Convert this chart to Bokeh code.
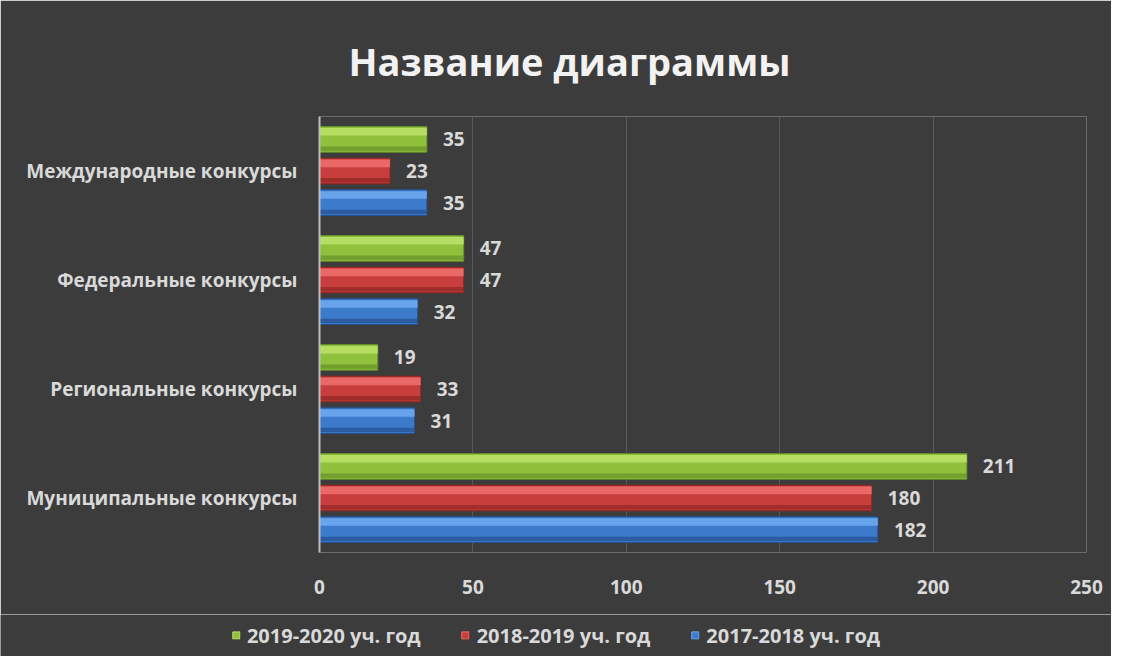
from bokeh.plotting import figure
from bokeh.layouts import column, row
from bokeh.models import FactorRange, Legend, LegendItem, ColumnDataSource, SingleIntervalTicker
from bokeh.transform import dodge
from bokeh.embed import file_html
from bokeh.resources import INLINE
from bokeh.core.properties import value

categories = ["Муниципальные конкурсы", "Региональные конкурсы", "Федеральные конкурсы", "Международные конкурсы"]
series_names = ["2019-2020 уч. год", "2018-2019 уч. год", "2017-2018 уч. год"]
v_2019_2020 = [211, 19, 47, 35]
v_2018_2019 = [180, 33, 47, 23]
v_2017_2018 = [182, 31, 32, 35]

FONT = "Open Sans"
TXT = "#d9d9d9"
BG = "#3c3c3c"

p = figure(frame_width=767, frame_height=436, y_range=FactorRange(factors=categories), x_range=(0, 250),
           output_backend="svg", toolbar_location=None,
           min_border_left=319, min_border_right=25, min_border_top=116, min_border_bottom=62)
p.background_fill_color = BG
p.border_fill_color = BG
p.outline_line_color = None

p.title.text = "Название диаграммы"
p.title.align = "left"
p.title.offset = 29
p.title.standoff = 59
p.title.text_color = "#f2f2f2"
p.title.text_font = FONT
p.title.text_font_style = "bold"
p.title.text_font_size = "38px"

p.xgrid.grid_line_color = "#585858"
p.ygrid.grid_line_color = None
p.xaxis.ticker = SingleIntervalTicker(interval=50)
p.xaxis.axis_line_color = None
p.xaxis.major_tick_line_color = None
p.xaxis.minor_tick_line_color = None
p.xaxis.major_label_text_color = TXT
p.xaxis.major_label_text_font = FONT
p.xaxis.major_label_text_font_style = "bold"
p.xaxis.major_label_text_font_size = "19px"
p.xaxis.major_label_standoff = 21

p.yaxis.axis_line_color = "#bdbdbd"
p.yaxis.axis_line_width = 2
p.yaxis.major_tick_line_color = None
p.yaxis.minor_tick_line_color = None
p.yaxis.major_label_text_color = TXT
p.yaxis.major_label_text_font = FONT
p.yaxis.major_label_text_font_style = "bold"
p.yaxis.major_label_text_font_size = "19px"
p.yaxis.major_label_standoff = 16

series = [
    (v_2019_2020, 0.29, "#8fc13d", "#bce36a", "#648f25"),
    (v_2018_2019, 0.0, "#c83e3c", "#f0706d", "#8e2523"),
    (v_2017_2018, -0.29, "#3c7acb", "#70acf2", "#24508f"),
]
for (vals, off, main, hi, dark), name in zip(series, series_names):
    src = ColumnDataSource(dict(cat=categories, val=vals, lab=[str(v) for v in vals]))
    p.hbar(y=dodge("cat", off, range=p.y_range), right="val", left=0, height=0.235, source=src,
           fill_color=main, line_color=dark, line_width=1)
    p.hbar(y=dodge("cat", off + 0.07, range=p.y_range), right="val", left=0, height=0.07, source=src,
           fill_color=hi, line_color=None, fill_alpha=0.85)
    p.hbar(y=dodge("cat", off - 0.085, range=p.y_range), right="val", left=0, height=0.04, source=src,
           fill_color=dark, line_color=None, fill_alpha=0.7)
    p.text(x="val", y=dodge("cat", off, range=p.y_range), text="lab", source=src,
           x_offset=16, text_align="left", text_baseline="middle",
           text_color=TXT, text_font=value(FONT), text_font_style="bold", text_font_size="19px")

# legend strip (proxy renderers of the same series, kept out of view)
lg = figure(width=1111, height=42, output_backend="svg", toolbar_location=None,
            x_axis_type=None, y_axis_type=None, x_range=(-2, -1),
            y_range=FactorRange(factors=categories),
            min_border=0, min_border_left=0, min_border_right=0, min_border_top=0, min_border_bottom=0)
lg.background_fill_color = BG
lg.border_fill_color = BG
lg.outline_line_color = None
lg.grid.visible = False
items = []
for (vals, off, main, hi, dark), name in zip(series, series_names):
    src = ColumnDataSource(dict(cat=categories, val=vals))
    r = lg.hbar(y="cat", right="val", left=0, height=0.5, source=src,
                fill_color=main, line_color=hi, line_width=1)
    items.append(LegendItem(label=name, renderers=[r]))
legend = Legend(items=items, orientation="horizontal", location="center",
                background_fill_alpha=0, border_line_color=None,
                label_text_color=TXT, label_text_font=FONT, label_text_font_style="bold",
                label_text_font_size="20px", glyph_width=9, glyph_height=9,
                spacing=40, label_standoff=7, padding=2, margin=0)
lg.add_layout(legend, "center")

layout = column(row(p), row(lg), spacing=0)
open("out.html", "w").write(file_html(layout, INLINE))
